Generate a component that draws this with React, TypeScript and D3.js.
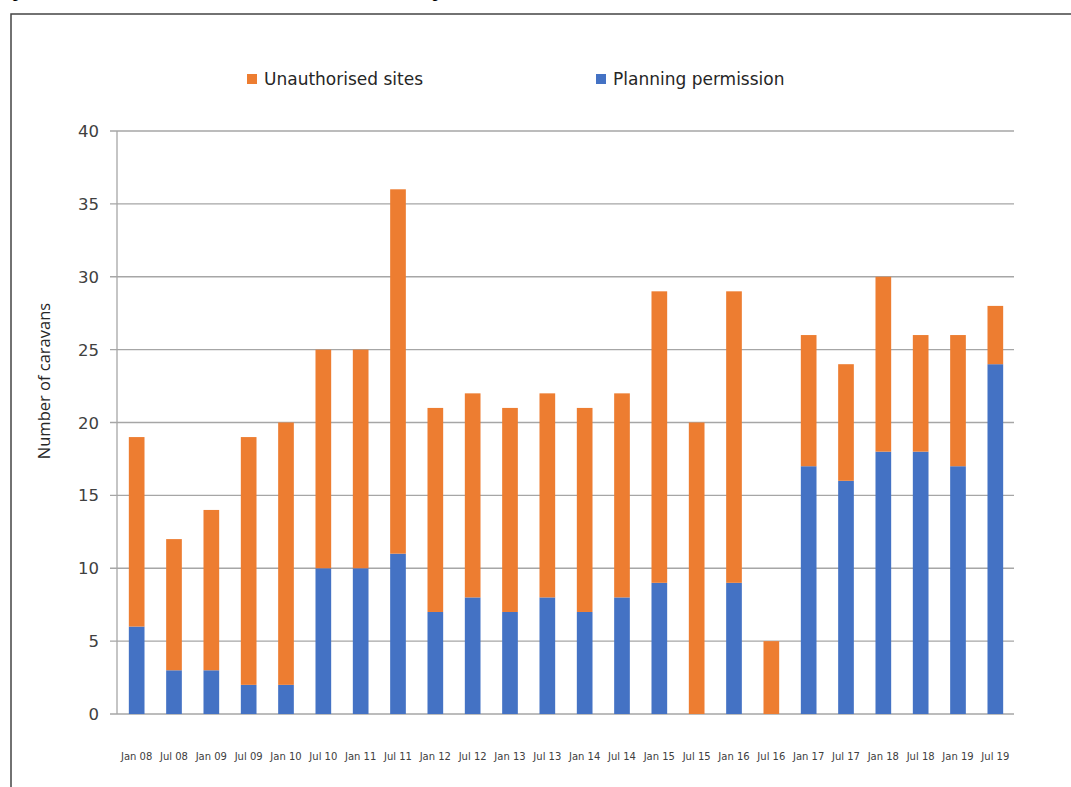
import React from "react";
import * as d3 from "d3";

const categories = ["Jan 08","Jul 08","Jan 09","Jul 09","Jan 10","Jul 10","Jan 11","Jul 11","Jan 12","Jul 12","Jan 13","Jul 13","Jan 14","Jul 14","Jan 15","Jul 15","Jan 16","Jul 16","Jan 17","Jul 17","Jan 18","Jul 18","Jan 19","Jul 19"];
const planningPermission = [6,3,3,2,2,10,10,11,7,8,7,8,7,8,9,0,9,0,17,16,18,18,17,24];
const unauthorisedSites = [13,9,11,17,18,15,15,25,14,14,14,14,14,14,20,20,20,5,9,8,12,8,9,4];
const yTicks = [0,5,10,15,20,25,30,35,40];

const W = 1071, H = 787;
const left = 118, right = 1014, top = 131, bottom = 714;
const ORANGE = "#ED7D31", BLUE = "#4472C4";

export default function App() {
  const x = d3.scaleBand<string>().domain(categories).range([left, right]).paddingInner(0.58).paddingOuter(0.29);
  const y = d3.scaleLinear().domain([0, 40]).range([bottom, top]);
  const font = "'DejaVu Sans', Verdana, sans-serif";
  return (
    <svg width={W} height={H} style={{ position: "absolute", left: 0, top: 0, background: "#fff" }}>
      <text x={0} y={-2} fontFamily="'Liberation Sans', Arial" fontWeight="bold" fontSize={13} fill="#000">
        Figure 4: Caravans on authorised and unauthorised sites in the borough
      </text>
      <rect x={11} y={14} width={W} height={H} fill="none" stroke="#444" strokeWidth={1.5} />
      {yTicks.map(t => (
        <g key={t}>
          <line x1={110} x2={right} y1={y(t)} y2={y(t)} stroke="#a6a6a6" strokeWidth={1.3} />
          <text x={99} y={y(t) + 6} textAnchor="end" fontFamily={font} fontSize={16.5} fill="#404040">{t}</text>
        </g>
      ))}
      <line x1={117} x2={117} y1={top} y2={bottom} stroke="#a6a6a6" strokeWidth={1.3} />
      {categories.map((c, i) => {
        const p = planningPermission[i], u = unauthorisedSites[i];
        return (
          <g key={c}>
            {p > 0 && <rect x={x(c)} y={y(p)} width={x.bandwidth()} height={y(0) - y(p)} fill={BLUE} />}
            <rect x={x(c)} y={y(p + u)} width={x.bandwidth()} height={y(p) - y(p + u)} fill={ORANGE} />
            <text x={(x(c) as number) + x.bandwidth() / 2} y={760} textAnchor="middle" fontFamily={font} fontSize={10} fill="#404040">{c}</text>
          </g>
        );
      })}
      <text transform={`translate(50, 381) rotate(-90)`} textAnchor="middle" fontFamily="'Open Sans', 'Liberation Sans', sans-serif" fontSize={16.5} fill="#262626">
        Number of caravans
      </text>
      <rect x={247} y={74} width={10} height={10} fill={ORANGE} />
      <text x={264} y={85} fontFamily={font} fontSize={17} fill="#262626">Unauthorised sites</text>
      <rect x={596} y={74} width={10} height={10} fill={BLUE} />
      <text x={613} y={85} fontFamily={font} fontSize={17} fill="#262626">Planning permission</text>
    </svg>
  );
}
